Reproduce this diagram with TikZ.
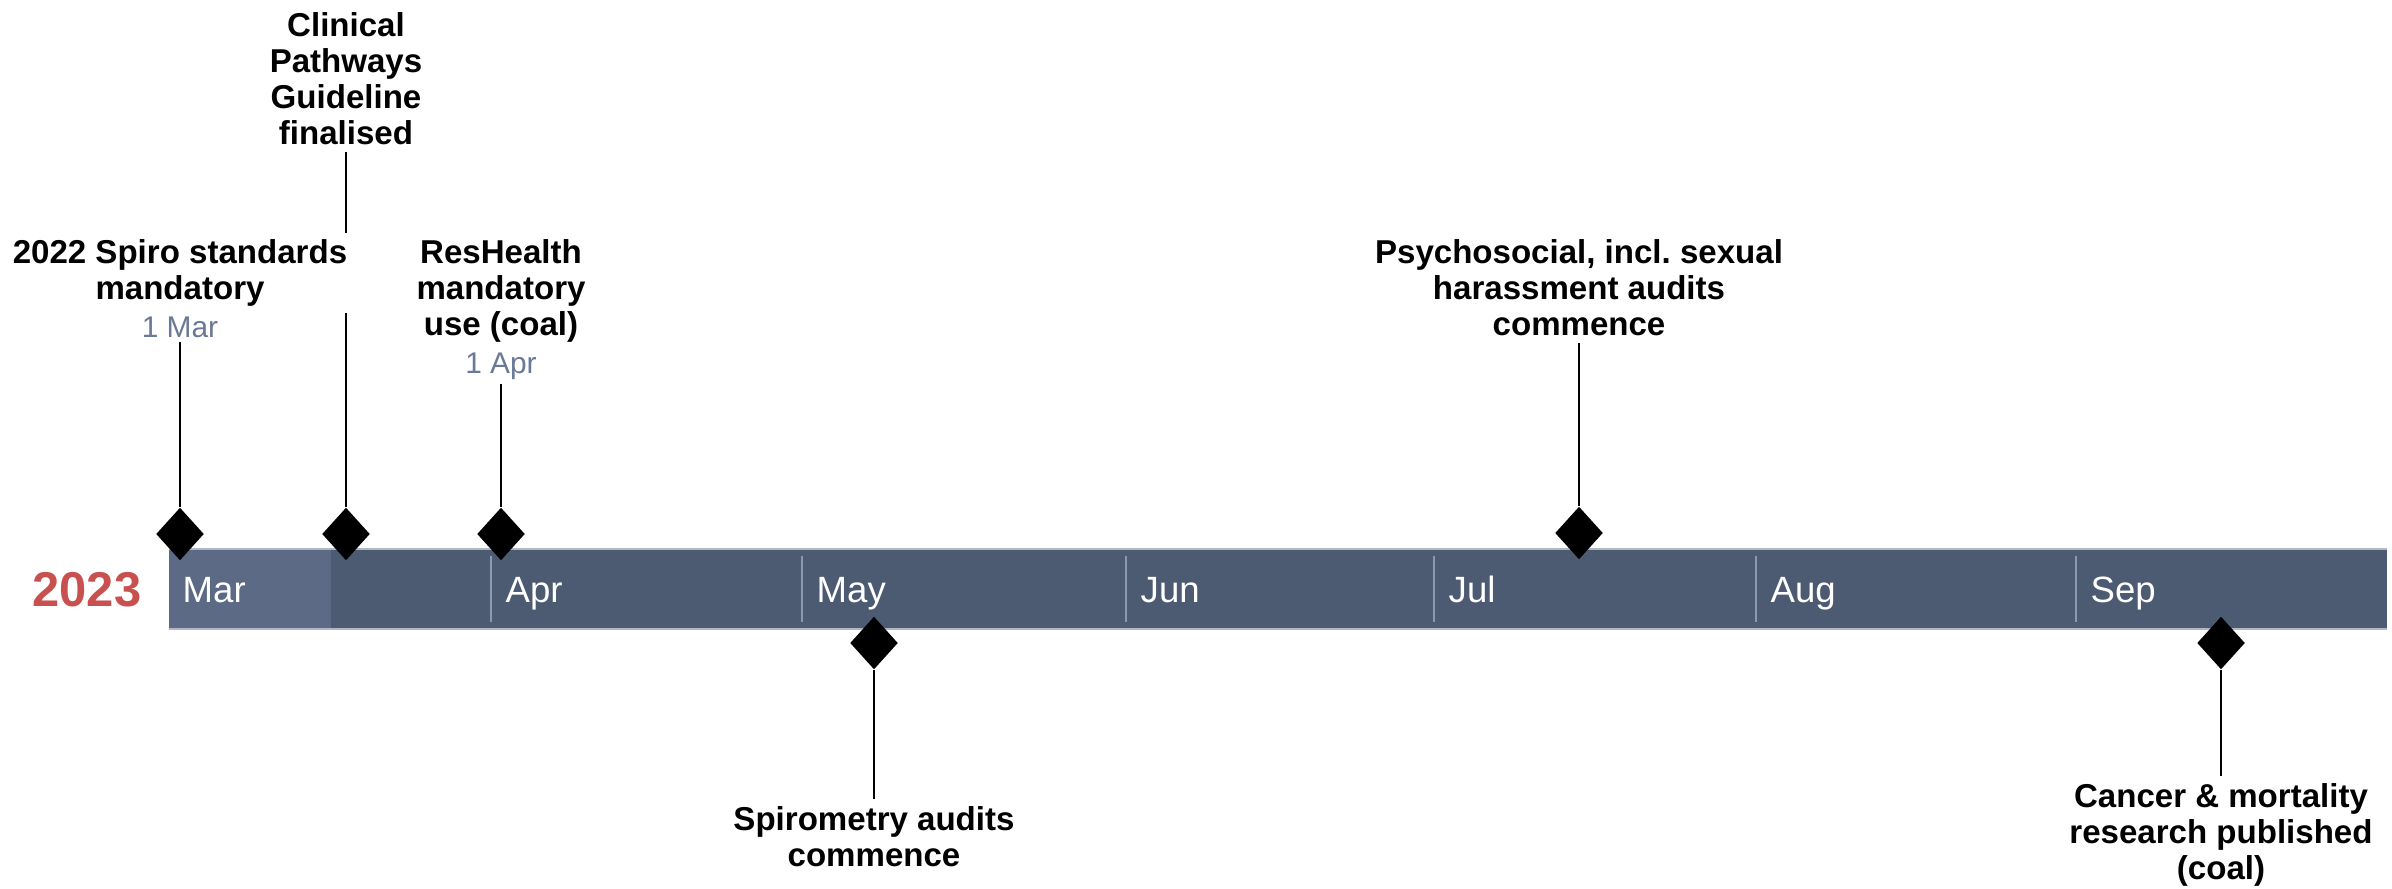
\documentclass[tikz,border=0pt]{standalone}
\usepackage{fontspec}
\setmainfont{Liberation Sans}
\usetikzlibrary{shapes.geometric,backgrounds}
\definecolor{barslate}{HTML}{4C5A72}
\definecolor{barlight}{HTML}{5C6A86}
\definecolor{sepgrey}{HTML}{8D99AC}
\definecolor{yearred}{HTML}{C8504E}
\definecolor{dategrey}{HTML}{6A7995}
\tikzset{
  milestone/.style={diamond, fill=black, inner sep=0pt,
    minimum width=0.48cm, minimum height=0.53cm},
  event-label/.style={font=\fontsize{9.4}{10.2}\selectfont\bfseries,
    align=center, fill=white, inner sep=2pt, anchor=north},
  event-date/.style={font=\fontsize{8.5}{9.5}\selectfont, text=dategrey,
    inner sep=1pt, anchor=north},
  stem/.style={line width=0.65pt, draw=black},
  month-label/.style={font=\fontsize{10.4}{12}\selectfont, text=white,
    inner sep=0pt, anchor=base west},
  month-tick/.style={draw=sepgrey, line width=0.5pt}
}

\begin{document}
\begin{tikzpicture}[x=0.01cm, y=-0.01cm]
  \useasboundingbox (0,0) rectangle (2392,888);

  % year
  \node[font=\fontsize{13.9}{16}\selectfont\bfseries, text=yearred,
        inner sep=0pt, anchor=base] (year) at (87,606) {2023};

  % the bar, Mar 1 to Oct 1
  \fill[barslate] (169,549) rectangle (2387,629);
  \fill[barlight] (169,549) rectangle (331,629);
  \draw[sepgrey!70, line width=0.4pt] (169,549) -- (2387,549)
    (169,629) -- (2387,629);

  \node[month-label] (m-Mar) at (182,602) {Mar};
  \foreach \x/\m in {491/Apr, 802/May, 1126/Jun, 1434/Jul, 1756/Aug, 2076/Sep}{
    \draw[month-tick] (\x,556) -- (\x,622);
    \node[month-label] (m-\m) at (\x+14,602) {\m};
  }

  % milestones above
  \node[milestone] (d1) at (180,534) {};
  \node[milestone] (d2) at (346,534) {};
  \node[milestone] (d3) at (501,534) {};
  \node[milestone] (d4) at (1579,533) {};
  % milestones below
  \node[milestone] (d5) at (874,643) {};
  \node[milestone] (d6) at (2221,643) {};

  \node[event-label] (l1) at (180,232) {2022 Spiro standards\\mandatory};
  \node[event-date] (t1) at (180,313) {1 Mar};
  \node[event-label] (l2) at (346,5) {Clinical\\Pathways\\Guideline\\finalised};
  \node[event-label] (l3) at (501,232) {ResHealth\\mandatory\\use (coal)};
  \node[event-date] (t3) at (501,349) {1 Apr};
  \node[event-label] (l4) at (1579,232) {Psychosocial, incl.\ sexual\\harassment audits\\commence};
  \node[event-label] (l5) at (874,799) {Spirometry audits\\commence};
  \node[event-label] (l6) at (2221,776) {Cancer \& mortality\\research published\\(coal)};

  \begin{scope}[on background layer]
    \draw[stem] (d1.north) -- (t1.south);
    \draw[stem] (d2.north) -- (l2.south);
    \draw[stem] (d3.north) -- (t3.south);
    \draw[stem] (d4.north) -- (l4.south);
    \draw[stem] (d5.south) -- (l5.north);
    \draw[stem] (d6.south) -- (l6.north);
  \end{scope}

\end{tikzpicture}
\end{document}
